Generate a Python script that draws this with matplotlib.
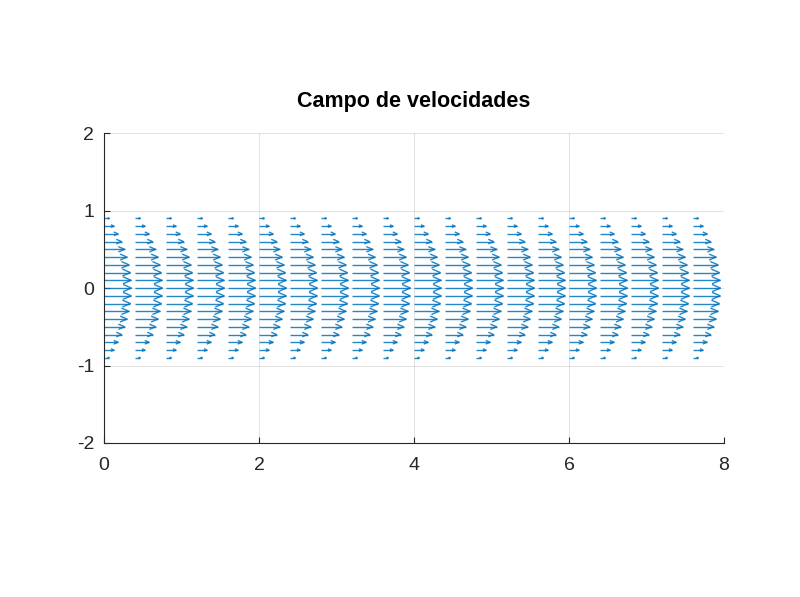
import matplotlib
matplotlib.use("Agg")
import matplotlib.pyplot as plt
import numpy as np
from matplotlib.collections import LineCollection

plt.rcParams["font.family"] = ["Liberation Sans", "DejaVu Sans"]
plt.rcParams["axes.unicode_minus"] = False

# grid of the velocity field
x_cols = [0.0, 0.4, 0.8, 1.2, 1.6, 2.0, 2.4, 2.8, 3.2, 3.6, 4.0,
          4.4, 4.8, 5.2, 5.6, 6.0, 6.4, 6.8, 7.2, 7.6, 8.0]
y_rows = [-1.0, -0.9, -0.8, -0.7, -0.6, -0.5, -0.4, -0.3, -0.2, -0.1, 0.0,
          0.1, 0.2, 0.3, 0.4, 0.5, 0.6, 0.7, 0.8, 0.9, 1.0]
# horizontal velocity per row (same profile in every column), v = 0
u_rows = [0.0, 0.19, 0.36, 0.51, 0.64, 0.75, 0.84, 0.91, 0.96, 0.99, 1.0,
          0.99, 0.96, 0.91, 0.84, 0.75, 0.64, 0.51, 0.36, 0.19, 0.0]

title = "Campo de velocidades"
xticks = [0, 2, 4, 6, 8]
yticks = [-2, -1, 0, 1, 2]

color = "#0072BD"
axis_col = "#262626"

fig = plt.figure(figsize=(8.0, 5.97), dpi=100)
ax = fig.add_axes([0.13, 0.258, 0.775, 0.519])

X, Y = np.meshgrid(x_cols, y_rows)
U = np.tile(np.array(u_rows)[:, None], (1, len(x_cols)))
V = np.zeros_like(U)

# octave-style autoscale
nx, ny = len(x_cols), len(y_rows)
dx = (max(x_cols) - min(x_cols)) / nx
dy = (max(y_rows) - min(y_rows)) / ny
s = 0.9 * np.hypot(dx, dy) / np.max(np.hypot(U, V))

x0, y0 = X.ravel(), Y.ravel()
u, v = U.ravel() * s, V.ravel() * s
keep = np.hypot(u, v) > 0
x0, y0, u, v = x0[keep], y0[keep], u[keep], v[keep]
x1, y1 = x0 + u, y0 + v

back = 0.3
half = 0.13
xb, yb = x1 - u * back, y1 - v * back
segs = []
for i in range(len(x0)):
    L = np.hypot(u[i], v[i])
    nxv, nyv = -v[i] / L, u[i] / L
    w = half * L
    segs.append([(x0[i], y0[i]), (x1[i], y1[i])])
    segs.append([(xb[i] + nxv * w, yb[i] + nyv * w), (x1[i], y1[i]),
                 (xb[i] - nxv * w, yb[i] - nyv * w)])

lc = LineCollection(segs, colors=color, linewidths=1.0, alpha=0.85)
ax.add_collection(lc)

ax.set_xlim(0, 8)
ax.set_ylim(-2, 2)
ax.set_xticks(xticks)
ax.set_yticks(yticks)
ax.grid(True, color=axis_col, alpha=0.15, linewidth=0.6)
ax.set_axisbelow(True)
for side in ("top", "right"):
    ax.spines[side].set_visible(False)
for side in ("left", "bottom"):
    ax.spines[side].set_color(axis_col)
    ax.spines[side].set_linewidth(0.8)
ax.tick_params(direction="in", length=4, width=0.8, colors=axis_col,
               labelsize=14, pad=7)
ax.tick_params(axis="x", pad=10)
ax.set_title(title, fontsize=15.5, fontweight="bold", pad=19, color="black")

fig.savefig("out.png", dpi=100)
